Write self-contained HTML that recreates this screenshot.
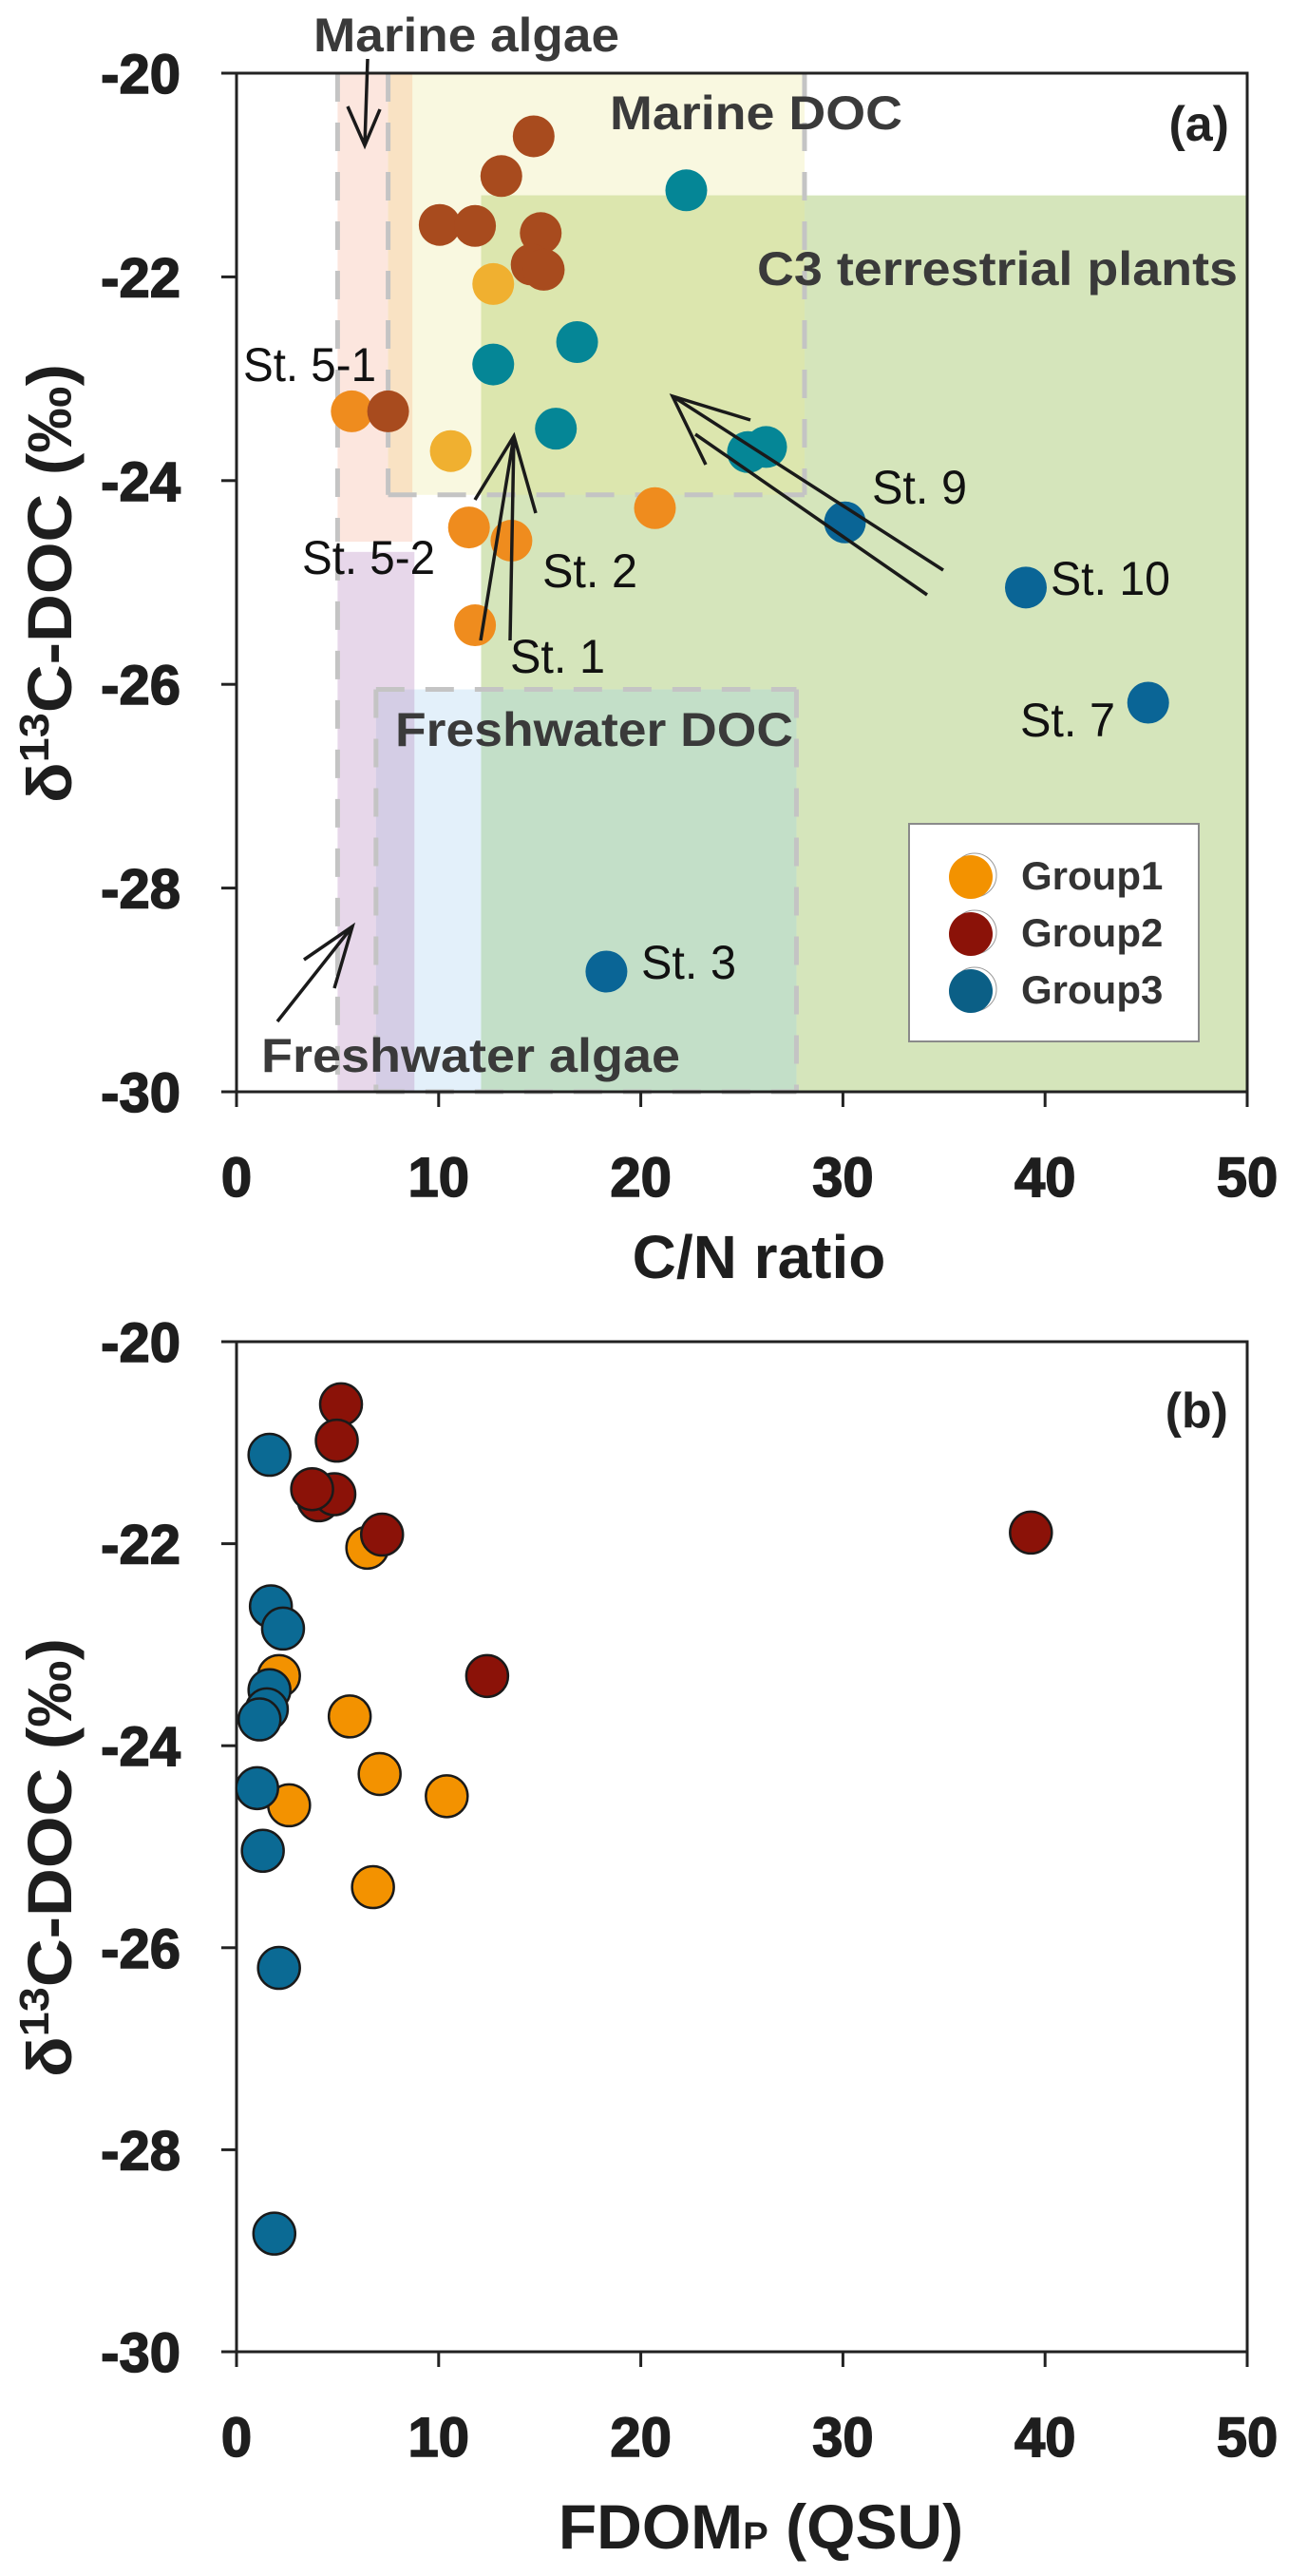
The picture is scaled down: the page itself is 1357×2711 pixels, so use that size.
<!DOCTYPE html>
<html><head><meta charset="utf-8"><style>
html,body{margin:0;padding:0;background:#fff}
svg{display:block}
text{font-family:"Liberation Sans",sans-serif}
</style></head><body>
<svg id="fig" width="1357" height="2711" viewBox="0 0 1357 2711" xmlns="http://www.w3.org/2000/svg">
<g id="pa"></g>
<g id="pb"></g>
</svg>
<script>
// ---------- data ----------
const xTicks = [0,10,20,30,40,50];
const yTicks = [-20,-22,-24,-26,-28,-30];
// Panel (a): C/N ratio vs d13C
const aG1x = [12.7, 5.7, 10.6, 11.5, 13.6, 20.7, 11.8];
const aG1y = [-22.07, -23.32, -23.71, -24.46, -24.59, -24.27, -25.42];
const aG2x = [14.7, 13.1, 10.05, 11.8, 15.05, 14.6, 15.2, 7.5];
const aG2y = [-20.62, -21.01, -21.49, -21.50, -21.57, -21.88, -21.93, -23.32];
const aG3x = [22.25, 16.85, 12.7, 15.8, 25.3, 26.2, 30.1, 39.05, 45.1, 18.3];
const aG3y = [-21.15, -22.64, -22.86, -23.49, -23.72, -23.67, -24.41, -25.05, -26.18, -28.82];
// Panel (b): FDOMp vs d13C
const bG1x = [6.47, 2.1, 5.6, 7.08, 10.4, 2.6, 6.75];
const bG1y = [-22.04, -23.31, -23.71, -24.28, -24.50, -24.59, -25.40];
const bG2x = [5.17, 4.96, 4.07, 4.84, 3.74, 7.2, 39.3, 12.4];
const bG2y = [-20.62, -20.98, -21.57, -21.51, -21.46, -21.91, -21.89, -23.31];
const bG3x = [1.63, 1.7, 2.3, 1.63, 1.5, 1.14, 1.02, 1.3, 2.1, 1.87];
const bG3y = [-21.12, -22.62, -22.84, -23.45, -23.64, -23.74, -24.42, -25.04, -26.20, -28.83];
// source regions (x1,x2,yTop,yBottom)
const regionNames = ["marine-algae","marine-doc","c3-plants","freshwater-algae","freshwater-doc"];
const regionX1 = [5.0, 7.5, 12.1, 5.0, 6.9];
const regionX2 = [8.7, 28.1, 50, 8.8, 27.7];
const regionY1 = [-20, -20, -21.2, -24.7, -26.05];
const regionY2 = [-24.6, -24.14, -30, -30, -30];

// ---------- scales ----------
const NS = "http://www.w3.org/2000/svg";
const xA = v => 249 + v * 21.28;
const yA = v => 77 + (-20 - v) * 107.2;
const xB = v => 249 + v * 21.28;
const yB = v => 1412 + (-20 - v) * 106.3;

function mk(parent, tag, attrs, txt) {
  const e = document.createElementNS(NS, tag);
  for (const k in attrs) e.setAttribute(k, attrs[k]);
  if (txt !== undefined) e.textContent = txt;
  parent.appendChild(e);
  return e;
}
const pa = document.getElementById('pa');
const pb = document.getElementById('pb');

// ---------- panel a regions ----------
const regionFill = ["#fce6de", "#f9f8e0", "#d5e5bb", "#e7d7ea", "#e3f0fa"];
for (let i = 0; i < 5; i++) {
  const r = mk(pa, 'rect', {x: xA(regionX1[i]), y: yA(regionY1[i]), width: xA(regionX2[i]) - xA(regionX1[i]), height: yA(regionY2[i]) - yA(regionY1[i]), fill: regionFill[i]});
  
  
}
function overlap(i, j, fill) {
  const x1 = Math.max(regionX1[i], regionX1[j]), x2 = Math.min(regionX2[i], regionX2[j]);
  const y1 = Math.min(regionY1[i], regionY1[j]), y2 = Math.max(regionY2[i], regionY2[j]);
  if (x2 <= x1 || y2 >= y1) return;
  const r = mk(pa, 'rect', {x: xA(x1), y: yA(y1), width: xA(x2) - xA(x1), height: yA(y2) - yA(y1), fill: fill});
  
  
}
overlap(0, 1, "#f9e2c3");
overlap(1, 2, "#dce6ae");
overlap(3, 4, "#d4cde5");
overlap(2, 4, "#c3dfc8");
// dashed borders
const dashStyle = {stroke: "#c4c4c4", 'stroke-width': 5, 'stroke-dasharray': '30 22', fill: 'none'};
function dline(x1, y1, x2, y2) {
  const l = mk(pa, 'line', Object.assign({x1: x1, y1: y1, x2: x2, y2: y2}, dashStyle));
  
  
}
dline(xA(regionX1[0]), yA(regionY1[0]), xA(regionX1[0]), yA(regionY2[0]));
dline(xA(regionX1[1]), yA(regionY1[1]), xA(regionX1[1]), yA(regionY2[1]));
dline(xA(regionX1[1]), yA(regionY2[1]), xA(regionX2[1]), yA(regionY2[1]));
dline(xA(regionX2[1]), yA(regionY1[1]), xA(regionX2[1]), yA(regionY2[1]));
dline(xA(regionX1[3]), yA(regionY1[3]), xA(regionX1[3]), yA(regionY2[3]));
dline(xA(regionX1[4]), yA(regionY1[4]), xA(regionX1[4]), yA(regionY2[4]));
dline(xA(regionX1[4]), yA(regionY1[4]), xA(regionX2[4]), yA(regionY1[4]));
dline(xA(regionX2[4]), yA(regionY1[4]), xA(regionX2[4]), yA(regionY2[4]));
dline(xA(regionX1[4]), yA(regionY2[4]), xA(regionX2[4]), yA(regionY2[4]));

// ---------- axes ----------
function axes(g, xs, ys, top, bottom) {
  const frame = mk(g, 'rect', {x: xs(0), y: top, width: xs(50) - xs(0), height: bottom - top, fill: 'none', stroke: '#222', 'stroke-width': 3});
  
  
  xTicks.forEach(t => {
    const l = mk(g, 'line', {x1: xs(t), x2: xs(t), y1: bottom, y2: bottom + 16, stroke: '#222', 'stroke-width': 3});
    
    
    const tx = mk(g, 'text', {x: xs(t), y: bottom + 110, 'text-anchor': 'middle', 'font-size': 58, 'font-weight': 'bold', fill: '#1e1e1e', stroke: '#1e1e1e', 'stroke-width': 1.5}, String(t));
    
    
  });
  yTicks.forEach(t => {
    const y = ys(t);
    const l = mk(g, 'line', {x1: xs(0) - 16, x2: xs(0), y1: y, y2: y, stroke: '#222', 'stroke-width': 3});
    
    
    const tx = mk(g, 'text', {x: 190, y: y + 21, 'text-anchor': 'end', 'font-size': 58, 'font-weight': 'bold', fill: '#1e1e1e', stroke: '#1e1e1e', 'stroke-width': 1.5}, String(t));
    
    
  });
}

// ---------- panel a points ----------
function inRegion(i, x, y) { return x >= regionX1[i] && x <= regionX2[i] && y <= regionY1[i] && y >= regionY2[i]; }
function dot(g, cx, cy, r, fill, stroke, name) {
  const c = mk(g, 'circle', {cx: cx, cy: cy, r: r, fill: fill, stroke: stroke, 'stroke-width': stroke === 'none' ? 0 : 2.5});
  
  
}
aG1x.forEach((x, i) => dot(pa, xA(x), yA(aG1y[i]), 22, inRegion(1, x, aG1y[i]) ? '#f0b030' : '#ef8c1e', 'none', 'point-group1'));
aG2x.forEach((x, i) => dot(pa, xA(x), yA(aG2y[i]), 22, inRegion(1, x, aG2y[i]) ? '#a84b1e' : '#8f1b10', 'none', 'point-group2'));
aG3x.forEach((x, i) => dot(pa, xA(x), yA(aG3y[i]), 22, inRegion(1, x, aG3y[i]) ? '#058696' : '#0a6596', 'none', 'point-group3'));
axes(pa, xA, yA, 77, 1149);

// arrows (annotation)
function arrowPath(d, name) {
  const p = mk(pa, 'path', {d: d, stroke: '#1a1a1a', 'stroke-width': 3.5, fill: 'none'});
  
  
}
arrowPath('M387 62 L384 153 M366 112 L384 153 L400 115', 'marine-algae-arrow');
arrowPath('M292 1075 L371 975 M320 1010 L371 975 L352 1040', 'freshwater-algae-arrow');
arrowPath('M506 674 L541 459 M537 674 L541 459 M500 526 L541 459 L564 540', 'st1-st2-arrow');
arrowPath('M993 600 L708 417 M976 626 L732 457 M790 442 L708 417 L743 489', 'st9-arrow');

// region labels
function label(g, txt, x, y, size, len, name, opts) {
  const a = Object.assign({x: x, y: y, 'font-size': size, fill: '#3a3a3a', 'font-weight': 'bold'}, opts || {});
  if (len) { a.textLength = len; a.lengthAdjust = 'spacingAndGlyphs'; }
  const t = mk(g, 'text', a, txt);
  
  
  return t;
}
label(pa, 'Marine algae', 330, 54, 50, 322, 'label-marine-algae');
label(pa, 'Marine DOC', 642, 136, 50, 308, 'label-marine-doc');
label(pa, 'C3 terrestrial plants', 797, 300, 50, 506, 'label-c3-plants');
label(pa, 'Freshwater DOC', 416, 785, 50, 419, 'label-freshwater-doc');
label(pa, 'Freshwater algae', 275, 1128, 50, 441, 'label-freshwater-algae');
label(pa, '(a)', 1294, 148, 52, 0, 'panel-label-a', {'text-anchor': 'end', fill: '#222'});
const st = [['St. 5-1',256,401,140],['St. 5-2',318,604,140],['St. 2',571,618,100],['St. 1',537,708,100],['St. 9',918,530,100],['St. 10',1106,626,126],['St. 7',1074,775,100],['St. 3',675,1030,100]];
st.forEach(s => label(pa, s[0], s[1], s[2], 50, s[3], 'station-label', {'font-weight': 'normal', fill: '#111'}));

// legend
const lg = mk(pa, 'g', {});


const lb = mk(lg, 'rect', {x: 957, y: 867, width: 305, height: 229, fill: '#fff', stroke: '#8a8a8a', 'stroke-width': 2});


const legNames = ['Group1', 'Group2', 'Group3'];
const legCols = ['#f39200', '#8b1208', '#0b5f86'];
legNames.forEach((n, i) => {
  const y = 921 + i * 60;
  const o = mk(lg, 'circle', {cx: 1026, cy: y, r: 23, fill: '#fff', stroke: '#999', 'stroke-width': 1});
  
  
  const c = mk(lg, 'circle', {cx: 1022, cy: y + 2, r: 23, fill: legCols[i]});
  
  
  const t = mk(lg, 'text', {x: 1075, y: y + 15, 'font-size': 42, 'font-weight': 'bold', fill: '#333'}, n);
  
  
});

// axis titles panel a
const ta = mk(pa, 'text', {x: 799, y: 1345, 'text-anchor': 'middle', 'font-size': 64, 'font-weight': 'bold', fill: '#1e1e1e'}, 'C/N ratio');


function yTitle(g, cy) {
  const t = mk(g, 'text', {x: 0, y: 0, 'text-anchor': 'middle', 'font-size': 66, 'font-weight': 'bold', fill: '#1e1e1e', transform: 'translate(75,' + cy + ') rotate(-90)', textLength: 462, lengthAdjust: 'spacingAndGlyphs'});
  
  
  t.appendChild(document.createTextNode('δ'));
  const s = mk(t, 'tspan', {'font-size': 44, dy: -24}, '13');
  
  
  const r = mk(t, 'tspan', {dy: 24}, 'C-DOC (‰)');
  
  
}
yTitle(pa, 614);

// ---------- panel b ----------
axes(pb, xB, yB, 1412, 2475);
bG1x.forEach((x, i) => dot(pb, xB(x), yB(bG1y[i]), 22, '#f39200', '#1a1a1a', 'point-group1'));
bG3x.forEach((x, i) => dot(pb, xB(x), yB(bG3y[i]), 22, '#0b6a94', '#1a1a1a', 'point-group3'));
bG2x.forEach((x, i) => dot(pb, xB(x), yB(bG2y[i]), 22, '#8b1208', '#1a1a1a', 'point-group2'));
label(pb, '(b)', 1293, 1502, 52, 0, 'panel-label-b', {'text-anchor': 'end', fill: '#222'});
yTitle(pb, 1955);
const tb = mk(pb, 'text', {x: 801, y: 2682, 'text-anchor': 'middle', 'font-size': 66, 'font-weight': 'bold', fill: '#1e1e1e'});


tb.appendChild(document.createTextNode('FDOM'));
const sb = mk(tb, 'tspan', {'font-size': 40}, 'P');


const rb = mk(tb, 'tspan', {}, ' (QSU)');


</script>
</body></html>
